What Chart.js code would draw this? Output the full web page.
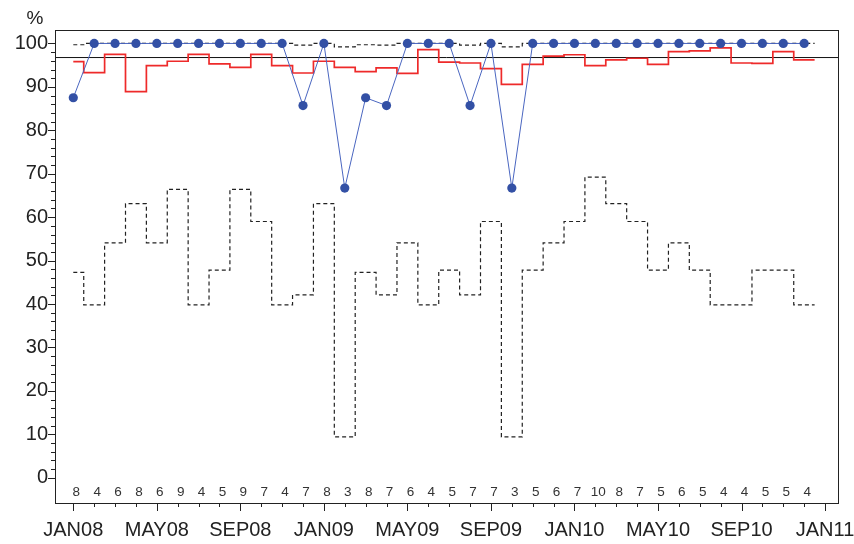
<!DOCTYPE html>
<html>
<head>
<meta charset="utf-8">
<script src="https://cdn.jsdelivr.net/npm/chart.js@4.4.1/dist/chart.umd.min.js"></script>
<style>
  html, body { margin: 0; padding: 0; background: #ffffff; }
  #wrap { width: 854px; height: 544px; }
</style>
</head>
<body>
<div id="wrap"><canvas id="c" width="854" height="544"></canvas></div>
<script>
// ---- data ----
const monthTickLabels = ['JAN08','MAY08','SEP08','JAN09','MAY09','SEP09','JAN10','MAY10','SEP10','JAN11'];
const yTickValues = [0,10,20,30,40,50,60,70,80,90,100];
const sampleSize = [8,4,6,8,6,9,4,5,9,7,4,7,8,3,8,7,6,4,5,7,7,3,5,6,7,10,8,7,5,6,5,4,4,5,5,4];
const percentMet = [87.5,100,100,100,100,100,100,100,100,100,100,85.7,100,66.7,87.5,85.7,100,100,100,85.7,100,66.7,100,100,100,100,100,100,100,100,100,100,100,100,100,100];
const upperBound = [99.7,100,100,100,100,100,100,100,100,100,100,99.6,100,99.2,99.7,99.6,100,100,100,99.6,100,99.2,100,100,100,100,100,100,100,100,100,100,100,100,100,100];
const lowerBound = [47.3,39.8,54.1,63.1,54.1,66.4,39.8,47.8,66.4,59.0,39.8,42.1,63.1,9.4,47.3,42.1,54.1,39.8,47.8,42.1,59.0,9.4,47.8,54.1,59.0,69.2,63.1,59.0,47.8,54.1,47.8,39.8,39.8,47.8,47.8,39.8];
const redLine = [95.8,93.3,97.5,88.9,94.9,95.9,97.5,95.3,94.5,97.5,94.9,93.2,95.9,94.5,93.5,94.4,93.1,98.6,95.7,95.5,94.2,90.6,95.2,97.1,97.4,94.9,96.2,96.6,95.2,98.1,98.3,99.0,95.5,95.4,98.1,96.2];
const centerValue = 96.76;

// ---- axis ranges ----
const X_MIN = -0.876, X_MAX = 36.62;
const Y_MIN = -5.82, Y_MAX = 103.1;

const FONT = "'Liberation Sans', Arial, sans-serif";
const TEXT = '#222222';

function pts(arr) { return arr.map((v, i) => ({ x: i, y: v })); }
function stepPts(arr) {
  const p = pts(arr);
  p.push({ x: arr.length - 1 + 0.5, y: arr[arr.length - 1] });
  return p;
}

const decorPlugin = {
  id: 'decor',
  afterDraw(chart) {
    const ctx = chart.ctx;
    const a = chart.chartArea;
    const xs = chart.scales.x, ys = chart.scales.y;
    ctx.save();
    // frame
    ctx.strokeStyle = '#222';
    ctx.lineWidth = 1;
    ctx.strokeRect(Math.round(a.left) + 0.5, Math.round(a.top) + 0.5,
                   Math.round(a.right - a.left), Math.round(a.bottom - a.top));
    // y tick marks (major every 10, minor every 2)
    ctx.beginPath();
    for (let v = 0; v <= 100; v += 2) {
      const y = Math.round(ys.getPixelForValue(v)) + 0.5;
      const len = (v % 10 === 0) ? 7 : 4;
      ctx.moveTo(a.left - len, y);
      ctx.lineTo(a.left, y);
    }
    // x tick marks (major every 4 months, minor each month)
    for (let m = 0; m <= 36; m++) {
      const x = Math.round(xs.getPixelForValue(m)) + 0.5;
      const len = (m % 4 === 0) ? 8 : 4;
      ctx.moveTo(x, a.bottom);
      ctx.lineTo(x, a.bottom + len);
    }
    ctx.stroke();
    // sample sizes
    ctx.fillStyle = '#333';
    ctx.font = '13.5px ' + FONT;
    ctx.textAlign = 'center';
    ctx.textBaseline = 'middle';
    sampleSize.forEach((n, i) => {
      ctx.fillText(String(n), xs.getPixelForValue(i) + 3, a.bottom - 11);
    });
    // % label
    ctx.fillStyle = TEXT;
    ctx.font = '19px ' + FONT;
    ctx.fillText('%', 35, 19);
    ctx.restore();
  }
};

new Chart(document.getElementById('c'), {
  type: 'scatter',
  data: {
    datasets: [
      {
        label: 'center',
        data: [{ x: X_MIN, y: centerValue }, { x: X_MAX, y: centerValue }],
        showLine: true, borderColor: '#111', borderWidth: 1, pointRadius: 0, order: 5
      },
      {
        label: 'upper',
        data: stepPts(upperBound),
        showLine: true, stepped: 'middle', borderColor: '#222', borderWidth: 1.2,
        borderDash: [4, 3], pointRadius: 0, order: 4
      },
      {
        label: 'lower',
        data: stepPts(lowerBound),
        showLine: true, stepped: 'middle', borderColor: '#222', borderWidth: 1.2,
        borderDash: [4, 3], pointRadius: 0, order: 4
      },
      {
        label: 'red',
        data: stepPts(redLine),
        showLine: true, stepped: 'middle', borderColor: '#ee2a2a', borderWidth: 1.7,
        pointRadius: 0, order: 3
      },
      {
        label: 'percent',
        data: pts(percentMet),
        showLine: true, borderColor: '#4a66c0', borderWidth: 1,
        pointRadius: 4.6, pointBackgroundColor: '#3350a5', pointBorderWidth: 0,
        pointBorderColor: '#3350a5', order: 1
      }
    ]
  },
  options: {
    responsive: false,
    animation: false,
    devicePixelRatio: 1,
    layout: { padding: { top: 30, right: 16, left: 0, bottom: 0 } },
    plugins: { legend: { display: false }, tooltip: { enabled: false } },
    scales: {
      x: {
        type: 'linear', min: X_MIN, max: X_MAX, position: 'bottom',
        afterBuildTicks: s => { s.ticks = monthTickLabels.map((t, i) => ({ value: i * 4 })); },
        afterFit: s => { s.height = 41; s.paddingLeft = 0; s.paddingRight = 0; },
        grid: { display: false, drawTicks: false },
        border: { display: false },
        ticks: {
          autoSkip: false, maxRotation: 0, minRotation: 0, padding: 15,
          color: TEXT, font: { family: FONT, size: 20 },
          callback: (v) => monthTickLabels[Math.round(v / 4)]
        }
      },
      y: {
        type: 'linear', min: Y_MIN, max: Y_MAX,
        afterBuildTicks: s => { s.ticks = yTickValues.map(v => ({ value: v })); },
        afterFit: s => { s.width = 55; s.paddingTop = 0; s.paddingBottom = 0; },
        grid: { display: false, drawTicks: false },
        border: { display: false },
        ticks: {
          padding: 7, color: TEXT, font: { family: FONT, size: 20 },
          callback: v => String(v)
        }
      }
    }
  },
  plugins: [decorPlugin]
});
</script>
</body>
</html>
